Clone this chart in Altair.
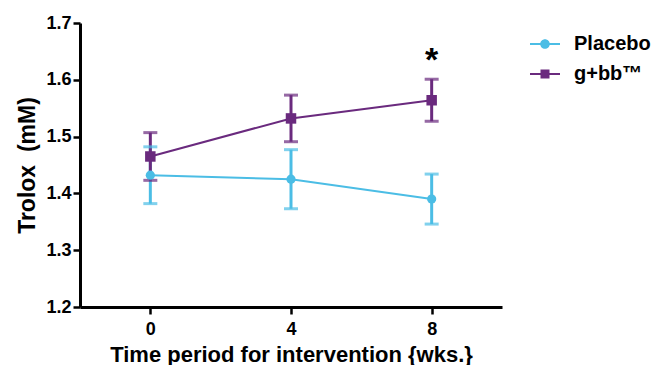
import altair as alt
import pandas as pd

weeks = [0, 4, 8]
groups = ["Placebo", "g+bb™"]
placebo_mean = [1.432, 1.425, 1.390]
placebo_err = [0.050, 0.052, 0.044]
gbb_mean = [1.465, 1.532, 1.564]
gbb_err = [0.042, 0.041, 0.037]
colors = ["#4BBDE5", "#6A2A7E"]
y_ticks = [1.2, 1.3, 1.4, 1.5, 1.6, 1.7]
star_week = [8]
star_y = [1.633]

rows = []
for g, means, errs in [(groups[0], placebo_mean, placebo_err), (groups[1], gbb_mean, gbb_err)]:
    for w, m, e in zip(weeks, means, errs):
        rows.append({"group": g, "week": w, "mean": m, "lo": m - e, "hi": m + e})
df = pd.DataFrame(rows)

star_df = pd.DataFrame({"week": star_week, "y": star_y})

FONT = "Liberation Sans"

# legend symbols: line with marker
circle_path = ("M-1,-0.06H1V0.06H-1Z "
               "M-0.32,0A0.32,0.32 0 1,1 0.32,0A0.32,0.32 0 1,1 -0.32,0Z")
square_path = "M-1,-0.06H1V0.06H-1Z M-0.3,-0.3H0.3V0.3H-0.3Z"

xs = alt.Scale(domain=[-2, 10], nice=False, zero=False)
ys = alt.Scale(domain=[1.2, 1.7], nice=False, zero=False)
cscale = alt.Scale(domain=groups, range=colors)

leg = alt.Legend(title=None, orient="none", legendX=450, legendY=6,
                 labelFont=FONT, labelFontSize=20, labelFontWeight="bold",
                 labelColor="black", symbolSize=900, rowPadding=5,
                 labelOffset=14, symbolOpacity=1, symbolStrokeWidth=0)

x = alt.X("week:Q", scale=xs,
          axis=alt.Axis(values=weeks, title="Time period for intervention {wks.}", format="d"))
y = alt.Y("mean:Q", scale=ys,
          axis=alt.Axis(values=y_ticks, title="Trolox\u00a0\u00a0(mM)", format=".1f"))
col = alt.Color("group:N", scale=cscale, legend=leg)

base = alt.Chart(df)

lines = base.mark_line(strokeWidth=2).encode(x=x, y=y, color=col)
bars = base.mark_rule(strokeWidth=3).encode(x="week:Q", y="lo:Q", y2="hi:Q", color=col)
cap_lo = base.mark_tick(orient="horizontal", size=14, thickness=3).encode(
    x="week:Q", y="lo:Q", color=col)
cap_hi = base.mark_tick(orient="horizontal", size=14, thickness=3).encode(
    x="week:Q", y="hi:Q", color=col)
pts_circle = base.transform_filter(alt.datum.group == groups[0]).mark_circle(
    size=85, opacity=1).encode(x=x, y=y, color=col)
pts_square = base.transform_filter(alt.datum.group == groups[1]).mark_square(
    size=110, opacity=1).encode(x=x, y=y, color=col)

legend_layer = base.mark_point(filled=True, opacity=0).encode(
    x="week:Q", y="mean:Q", color=col,
    shape=alt.Shape("group:N", scale=alt.Scale(domain=groups, range=[circle_path, square_path]),
                    legend=leg),
)

star = alt.Chart(star_df).mark_text(text="*", font=FONT, fontSize=34, fontWeight="bold",
                                    color="black", baseline="middle").encode(x="week:Q", y="y:Q")

chart = alt.layer(lines, bars, cap_lo, cap_hi, pts_circle, pts_square, star, legend_layer).properties(
    width=422, height=284,
    autosize=alt.AutoSizeParams(type="none"),
    padding={"left": 72, "top": 15, "right": 153, "bottom": 58},
).configure_axis(
    grid=False, domainColor="black", domainWidth=3, tickColor="black", tickWidth=2.5, tickSize=7,
    labelFont=FONT, labelFontSize=18, labelFontWeight="bold", labelColor="black",
    titleFont=FONT, titleFontSize=21, titleFontWeight="bold", titleColor="black",
    labelPadding=2, titlePadding=8
).configure_axisX(labelPadding=6, titlePadding=6, titleFontSize=22).configure_axisY(
    titleFontSize=23, titlePadding=6).configure_view(stroke=None)

chart.save("out.html", embed_options={"renderer": "svg", "actions": False})
